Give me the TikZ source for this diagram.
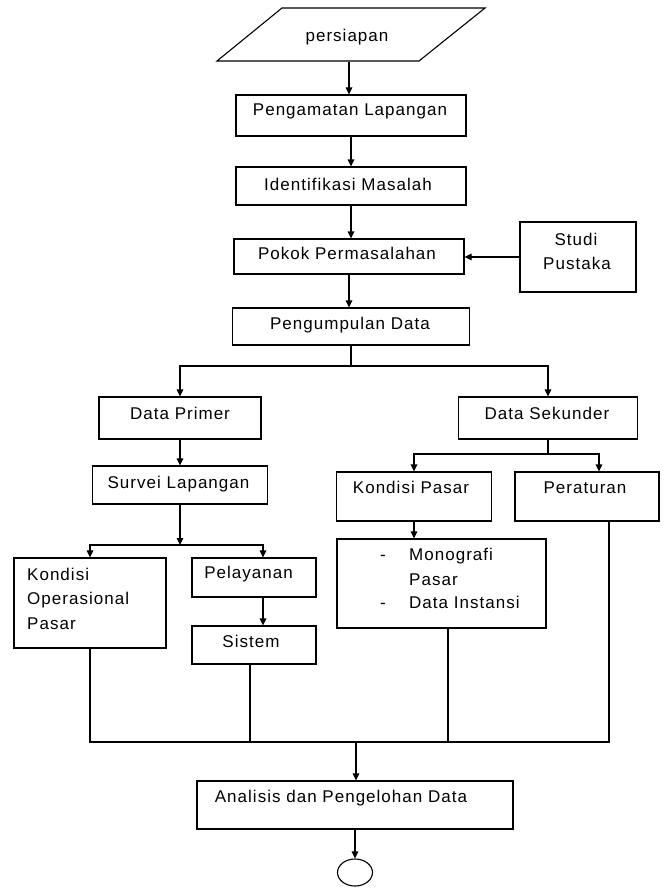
\documentclass[tikz,border=0pt]{standalone}
\usepackage{fontspec}
\setmainfont{Liberation Sans}[LetterSpace=6]
\usetikzlibrary{arrows.meta,calc,shapes.geometric}
\newcommand{\fsz}{\fontsize{17}{24.5}\selectfont}
\tikzset{
  box/.style={draw, line width=1.1pt, inner sep=0pt, rectangle},
  lbl/.style={inner sep=0pt, font=\fsz, anchor=base},
  lblw/.style={inner sep=0pt, font=\fsz, anchor=base west},
  arr/.style={-{Triangle[length=7pt,width=6.5pt]}, line width=1.1pt},
  ln/.style={line width=1.1pt}
}
\begin{document}
\begin{tikzpicture}[x=1pt,y=-1pt]
\useasboundingbox (0,0) rectangle (667,888);
% start parallelogram
\draw[line width=1.1pt] (282,8) -- (485,8) -- (419,61) -- (217,61) -- cycle;
\node[lbl] (prep) at (347,41.5) {persiapan};
\coordinate (prepB) at (349,62);
% boxes
\node[box, minimum width=230, minimum height=41] (peng) at (351,115.5) {};
\node[box, minimum width=230, minimum height=38] (iden) at (351,186) {};
\node[box, minimum width=230, minimum height=35] (pokok) at (349,256.5) {};
\node[box, minimum width=116, minimum height=70] (studi) at (578,257) {};
\node[box, minimum width=237, minimum height=37] (pengum) at (351,326.5) {};
\node[box, minimum width=162, minimum height=42] (dprim) at (180,418) {};
\node[box, minimum width=179, minimum height=42] (dsek) at (548,418) {};
\node[box, minimum width=175, minimum height=38] (surv) at (180,485) {};
\node[box, minimum width=155, minimum height=49] (kpas) at (414,496.5) {};
\node[box, minimum width=144, minimum height=49] (perat) at (587,496.5) {};
\node[box, minimum width=209, minimum height=89] (mono) at (441.5,583.5) {};
\node[box, minimum width=152, minimum height=90] (kop) at (90,603) {};
\node[box, minimum width=124, minimum height=39] (pel) at (254,577.5) {};
\node[box, minimum width=124, minimum height=38] (sis) at (254,645) {};
\node[box, minimum width=316, minimum height=48] (anal) at (355,805) {};
\node[draw, ellipse, line width=1.1pt, inner sep=0pt, minimum width=35, minimum height=27] (endc) at (355,872.5) {};
% texts
\node[lbl] (tpeng) at (350,115.5) {Pengamatan Lapangan};
\node[lbl] (tiden) at (348,190) {Identifikasi Masalah};
\node[lbl] (tpokok) at (347,259) {Pokok Permasalahan};
\node[lbl] (tstudiA) at (576,245) {Studi};
\node[lbl] (tstudiB) at (577,269) {Pustaka};
\node[lbl] (tpengum) at (350,329) {Pengumpulan Data};
\node[lbl] (tdprim) at (180,419) {Data Primer};
\node[lbl] (tdsek) at (547,419) {Data Sekunder};
\node[lbl] (tsurv) at (178.5,488) {Survei Lapangan};
\node[lbl] (tkpas) at (411,493) {Kondisi Pasar};
\node[lbl] (tperat) at (585,493) {Peraturan};
\node[lbl] (dashA) at (383,560) {-};
\node[lblw] (tmonoA) at (409,560) {Monografi};
\node[lblw] (tmonoB) at (409,585) {Pasar};
\node[lbl] (dashB) at (383,608) {-};
\node[lblw] (tmonoC) at (409,608) {Data Instansi};
\node[lblw] (tkopA) at (27,580) {Kondisi};
\node[lblw] (tkopB) at (27,604) {Operasional};
\node[lblw] (tkopC) at (27,629) {Pasar};
\node[lbl] (tpel) at (248.5,578) {Pelayanan};
\node[lbl] (tsis) at (251,647) {Sistem};
\node[lbl] (tanal) at (341,802) {Analisis dan Pengelohan Data};
% connectors
\draw[arr] (prepB) -- (prepB |- peng.north);
\draw[arr] (peng.south) -- (iden.north);
\draw[arr] (iden.south) -- (iden.south |- pokok.north);
\draw[arr] (studi.west) -- (studi.west -| pokok.east);
\draw[arr] (pokok.south) -- (pokok.south |- pengum.north);
\coordinate (j1) at (351,366);
\draw[ln] (pengum.south) -- (j1);
\draw[arr] (j1) -| (dprim.north);
\draw[arr] (j1) -| (dsek.north);
\draw[arr] (dprim.south) -- (dprim.south |- surv.north);
\coordinate (j2) at (180,545);
\draw[arr] (surv.south) -- (j2);
\draw[arr] (j2) -| (kop.north);
\draw[arr] (j2) -| ([xshift=9pt]pel.north);
\draw[arr] ([xshift=9pt]pel.south) -- ([xshift=9pt]sis.north);
\coordinate (j3) at (548,454);
\draw[ln] (dsek.south) -- (j3);
\draw[arr] (j3) -| (kpas.north);
\draw[arr] (j3) -| ([xshift=12pt]perat.north);
\draw[arr] (kpas.south) -- (kpas.south |- mono.north);
\coordinate (j4) at (356,742);
\draw[ln] (kop.south) |- ([xshift=22pt]perat.south |- j4) -- ([xshift=22pt]perat.south);
\draw[ln] ([xshift=-4pt]sis.south) -- ([xshift=-4pt]sis.south |- j4);
\draw[ln] ([xshift=6.5pt]mono.south) -- ([xshift=6.5pt]mono.south |- j4);
\draw[arr] (j4) -- (j4 |- anal.north);
\draw[arr] (anal.south) -- (anal.south |- endc.north);
\end{tikzpicture}
\end{document}
